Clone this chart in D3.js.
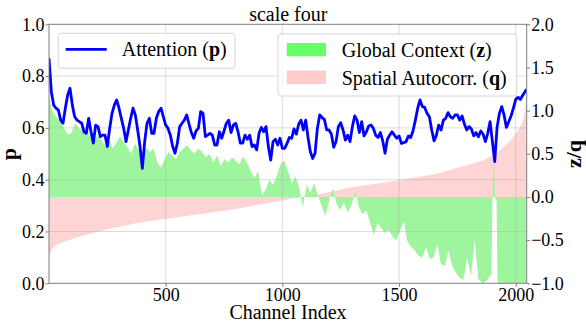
<!DOCTYPE html>
<html>
<head>
<meta charset="utf-8">
<script src="https://cdn.jsdelivr.net/npm/d3@7"></script>
<style>
  body { margin: 0; background: #fff; }
  svg text { font-family: "Liberation Serif", "DejaVu Serif", serif; fill: #000; }
</style>
</head>
<body>
<div id="chart"></div>
<script>
// ---- data ----
// attention p, every 10 channels (last point = channel 2047)
const pChan = d3.range(0, 2041, 10).concat([2047])
const pVal = [
  0.869,0.740,0.688,0.676,0.669,0.630,0.618,0.676,0.727,0.753,
  0.688,0.643,0.630,0.624,0.618,0.585,0.579,0.637,0.585,0.541,
  0.611,0.605,0.566,0.572,0.572,0.528,0.598,0.656,0.688,0.708,
  0.676,0.637,0.598,0.547,0.592,0.637,0.676,0.650,0.592,0.528,
  0.444,0.547,0.618,0.637,0.579,0.579,0.637,0.663,0.676,0.643,
  0.611,0.598,0.572,0.528,0.502,0.541,0.605,0.618,0.630,0.650,
  0.615,0.582,0.560,0.588,0.598,0.663,0.656,0.566,0.572,0.579,
  0.572,0.534,0.534,0.585,0.560,0.588,0.618,0.630,0.582,0.611,
  0.618,0.585,0.541,0.541,0.572,0.556,0.572,0.528,0.534,0.515,
  0.579,0.602,0.585,0.605,0.528,0.476,0.547,0.556,0.534,0.560,
  0.521,0.521,0.540,0.563,0.560,0.596,0.576,0.615,0.630,0.592,
  0.630,0.563,0.508,0.482,0.502,0.598,0.650,0.640,0.633,0.592,
  0.592,0.576,0.525,0.547,0.605,0.620,0.592,0.553,0.572,0.547,
  0.605,0.646,0.630,0.582,0.624,0.569,0.585,0.607,0.611,0.598,
  0.572,0.563,0.582,0.550,0.502,0.556,0.572,0.585,0.572,0.560,
  0.569,0.540,0.543,0.547,0.569,0.563,0.589,0.630,0.676,0.708,
  0.682,0.679,0.656,0.643,0.592,0.550,0.572,0.611,0.592,0.630,
  0.637,0.659,0.643,0.637,0.650,0.650,0.630,0.646,0.615,0.592,
  0.605,0.596,0.569,0.582,0.566,0.588,0.576,0.547,0.579,0.624,
  0.547,0.470,0.602,0.656,0.682,0.650,0.602,0.624,0.646,0.676,
  0.710,0.718,0.710,0.726,0.740,0.749
]

// global context z (right axis)
const zChan = d3.range(0, 1889, 16).concat([1896, 1900, 1906, 1912, 1918, 1922, 1936, 1968, 2000, 2032, 2047])
const zVal = [
  1.15,0.98,0.92,0.88,0.80,0.72,0.74,0.85,0.80,0.76,
  0.82,0.70,0.62,0.72,0.66,0.60,0.68,0.56,0.62,0.70,
  0.64,0.58,0.50,0.62,0.55,0.48,0.57,0.52,0.56,0.40,
  0.34,0.44,0.52,0.48,0.44,0.52,0.56,0.60,0.54,0.50,
  0.56,0.52,0.46,0.50,0.40,0.48,0.36,0.44,0.40,0.46,
  0.42,0.38,0.47,0.40,0.30,0.22,0.30,0.02,0.08,0.20,
  0.14,0.24,0.38,0.42,0.30,0.16,0.24,0.10,-0.12,0.14,
  0.05,0.16,0.02,-0.10,-0.22,-0.05,0.10,-0.08,-0.15,-0.06,
  -0.18,-0.10,0.08,-0.12,-0.20,-0.16,-0.30,-0.44,-0.30,-0.36,
  -0.42,-0.38,-0.46,-0.50,-0.40,-0.28,-0.52,-0.58,-0.62,-0.68,
  -0.70,-0.58,-0.72,-0.70,-0.55,-0.78,-0.80,-0.62,-0.80,-0.88,
  -0.94,-0.96,-0.70,-0.92,-0.50,-0.95,-1.00,-0.98,-0.92,
  -0.90,-0.02,0.43,-0.02,-0.05,-1.10,-1.15,-1.20,-1.20,-1.25,-1.25
]

// spatial autocorrelation q (right axis, sorted)
const qChan = [0,16,32,64,128,256,384,512,640,768,896,1024,1152,1280,1408,1536,1664,1792,1856,1920,1984,2016,2032,2047]
const qVal = [-0.68,-0.59,-0.56,-0.52,-0.46,-0.37,-0.30,-0.25,-0.20,-0.155,-0.09,-0.03,0.03,0.105,0.155,0.21,0.27,0.37,0.42,0.51,0.67,0.80,0.89,1.15]

const xTicks = [500, 1000, 1500, 2000]
const pTicks = [0, 0.2, 0.4, 0.6, 0.8, 1.0]
const zTicks = [-1, -0.5, 0, 0.5, 1, 1.5, 2]

// ---- layout ----
const W = 586, H = 321
const SERIF = '"Liberation Serif", "DejaVu Serif", serif'
const margin = {top: 24.3, right: 59.3, bottom: 37.7, left: 49}
const width = W - margin.left - margin.right,
      height = H - margin.top - margin.bottom

const svg = d3.select("#chart").append("svg")
  .attr("width", W).attr("height", H)
  .attr("font-family", SERIF)

const g = svg.append("g")
  .attr("transform", "translate(" + margin.left + "," + margin.top + ")")

const x = d3.scaleLinear().domain([0, 2047]).range([0, width])
const yL = d3.scaleLinear().domain([0, 1]).range([height, 0])
const yR = d3.scaleLinear().domain([-1, 2]).range([height, 0])

g.append("defs").append("clipPath").attr("id", "clip")
  .append("rect").attr("width", width).attr("height", height)

const plot = g.append("g").attr("clip-path", "url(#clip)")

// fills
const qData = qChan.map((c, i) => ({c: c, v: qVal[i]}))
const zData = zChan.map((c, i) => ({c: c, v: zVal[i]}))

const area = d3.area()
  .x(d => x(d.c))
  .y0(yR(0))
  .y1(d => yR(d.v))

plot.append("path").datum(qData)
  .attr("d", area).attr("fill", "#ffd4d4")
plot.append("path").datum(zData)
  .attr("d", area).attr("fill", "#9ef59e")

// grid (drawn over fills, like the see-through fills in the original)
plot.append("g").selectAll("line").data(xTicks).enter().append("line")
  .attr("x1", d => x(d)).attr("x2", d => x(d))
  .attr("y1", 0).attr("y2", height)
  .attr("stroke", "#b0b0b0").attr("stroke-opacity", 0.5).attr("stroke-width", 0.9)
plot.append("g").selectAll("line").data(pTicks.slice(1, -1)).enter().append("line")
  .attr("x1", 0).attr("x2", width)
  .attr("y1", d => yL(d)).attr("y2", d => yL(d))
  .attr("stroke", "#b0b0b0").attr("stroke-opacity", 0.5).attr("stroke-width", 0.9)

// attention line
const line = d3.line().x((d, i) => x(pChan[i])).y(d => yL(d))
plot.append("path").datum(pVal)
  .attr("d", line)
  .attr("fill", "none").attr("stroke", "#0000ff")
  .attr("stroke-width", 2.8).attr("stroke-linejoin", "round")

// frame
g.append("rect").attr("width", width).attr("height", height)
  .attr("fill", "none").attr("stroke", "#808080").attr("stroke-width", 1)

// axes
function styleAxis (sel) {
  sel.attr("font-family", SERIF).attr("font-size", 18)
  sel.select(".domain").remove()
  sel.selectAll(".tick line").attr("stroke", "#808080")
  sel.selectAll(".tick text").style("font-family", SERIF).style("font-size", "18px")
}

g.append("g")
  .attr("transform", "translate(0," + height + ")")
  .call(d3.axisBottom(x).tickValues(xTicks).tickFormat(d3.format("d")).tickSize(3.5).tickPadding(1))
  .call(styleAxis)

g.append("g")
  .call(d3.axisLeft(yL).tickValues(pTicks).tickFormat(d3.format(".1f")).tickSize(3.5).tickPadding(1))
  .call(styleAxis)

g.append("g")
  .attr("transform", "translate(" + width + ",0)")
  .call(d3.axisRight(yR).tickValues(zTicks).tickFormat(d3.format(".1f")).tickSize(3.5).tickPadding(1))
  .call(styleAxis)

// labels
svg.append("text").attr("x", 288.3).attr("y", 20.5)
  .attr("text-anchor", "middle").style("font-size", "20px").text("scale four")

svg.append("text").attr("x", 288).attr("y", 319)
  .attr("text-anchor", "middle").style("font-size", "20px").text("Channel Index")

svg.append("text")
  .attr("transform", "translate(16,154) rotate(-90)")
  .attr("text-anchor", "middle").style("font-size", "22px").style("font-weight", "bold")
  .text("p")

svg.append("text")
  .attr("transform", "translate(581,154) rotate(-90)")
  .attr("text-anchor", "middle").style("font-size", "22px").style("font-weight", "bold")
  .text("z/q")

// legends
function legendBox (x0, y0, w, h) {
  svg.append("rect").attr("x", x0).attr("y", y0).attr("width", w).attr("height", h)
    .attr("rx", 3).attr("fill", "#fff").attr("fill-opacity", 0.8)
    .attr("stroke", "#d6d6d6").attr("stroke-width", 1)
}

legendBox(58.3, 33.3, 176.7, 35)
svg.append("line").attr("x1", 65.7).attr("x2", 106.7).attr("y1", 49.3).attr("y2", 49.3)
  .attr("stroke", "#0000ff").attr("stroke-width", 2.8)
const t1 = svg.append("text").attr("x", 121.7).attr("y", 56).style("font-size", "20px")
t1.append("tspan").text("Attention (")
t1.append("tspan").style("font-weight", "bold").text("p")
t1.append("tspan").text(")")

legendBox(278, 34, 238.7, 62)
svg.append("rect").attr("x", 286.7).attr("y", 43).attr("width", 39.3).attr("height", 13.3)
  .attr("fill", "#66ff66")
svg.append("rect").attr("x", 286.7).attr("y", 70.7).attr("width", 39.3).attr("height", 13.3)
  .attr("fill", "#ffcccc")
const t2 = svg.append("text").attr("x", 341.7).attr("y", 56.7).style("font-size", "20px")
t2.append("tspan").text("Global Context (")
t2.append("tspan").style("font-weight", "bold").text("z")
t2.append("tspan").text(")")
const t3 = svg.append("text").attr("x", 341.7).attr("y", 85).style("font-size", "20px")
t3.append("tspan").text("Spatial Autocorr. (")
t3.append("tspan").style("font-weight", "bold").text("q")
t3.append("tspan").text(")")
</script>
</body>
</html>
